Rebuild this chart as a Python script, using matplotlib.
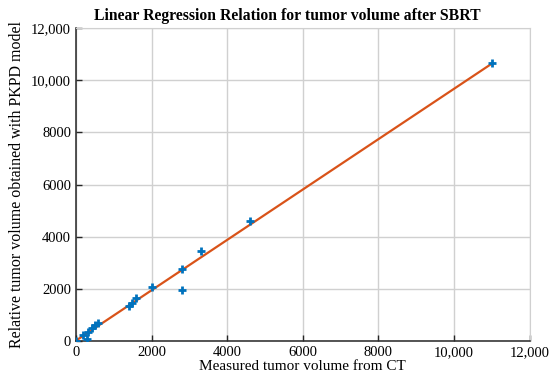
import matplotlib.pyplot as plt
import numpy as np
from matplotlib.ticker import FuncFormatter

# measured (CT) vs model tumor volume
measured = [0, 195, 300, 320, 415, 500, 580, 1414, 1477, 1590, 2008, 2800, 2800, 3308, 4600, 11000]
model = [0, 230, 100, 356, 500, 610, 690, 1352, 1444, 1660, 2080, 2760, 1954, 3448, 4600, 10650]

plt.rcParams['font.family'] = ['Liberation Serif', 'DejaVu Serif']

fig = plt.figure(figsize=(5.5, 3.85), dpi=100)
ax = fig.add_axes([0.138, 0.114, 0.825, 0.813])

coef = np.polyfit(measured, model, 1)
xfit = np.array([0, max(measured)])
ax.plot(xfit, np.polyval(coef, xfit), color='#D95319', lw=1.6, zorder=2)
ax.plot(measured, model, '+', color='#0072BD', ms=6, mew=2, zorder=3)

ax.set_xlim(0, 12000)
ax.set_ylim(0, 12000)
ticks = np.arange(0, 12001, 2000)
ax.set_xticks(ticks)
ax.set_yticks(ticks)


def fmt(v, pos):
    return f'{int(v):,}' if v >= 10000 else f'{int(v)}'


ax.xaxis.set_major_formatter(FuncFormatter(fmt))
ax.yaxis.set_major_formatter(FuncFormatter(fmt))
ax.tick_params(direction='in', labelsize=10.5, length=4, width=1, color='#262626')
ax.grid(True, color='#d0d0d0', lw=1)
ax.set_axisbelow(True)
for s in ['top', 'right']:
    ax.spines[s].set_color('#d0d0d0')
for s in ['left', 'bottom']:
    ax.spines[s].set_color('#262626')
    ax.spines[s].set_linewidth(1.1)

ax.set_xlabel('Measured tumor volume from CT', fontsize=11, labelpad=1)
ax.set_ylabel('Relative tumor volume obtained with PKPD model', fontsize=11.5, labelpad=4)
ax.set_title('Linear Regression Relation for tumor volume after SBRT', fontsize=11.3,
             fontweight='bold', pad=6, x=0.465)

fig.savefig('out.png', dpi=100)
